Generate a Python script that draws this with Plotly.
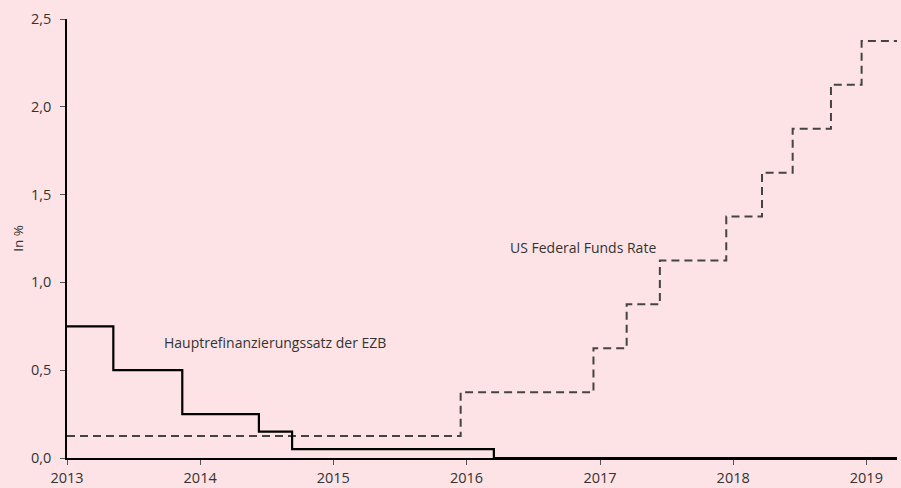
import plotly.graph_objects as go

# ECB main refinancing rate (step changes)
ecb_dates = ["2013-01-01", "2013-05-08", "2013-11-13", "2014-06-11", "2014-09-10", "2016-03-16", "2019-03-31"]
ecb_rates = [0.75, 0.50, 0.25, 0.15, 0.05, 0.00, 0.00]

# US Federal Funds Rate (midpoint of target range)
fed_dates = ["2013-01-01", "2015-12-16", "2016-12-14", "2017-03-15", "2017-06-14", "2017-12-13",
             "2018-03-21", "2018-06-13", "2018-09-26", "2018-12-19", "2019-03-31"]
fed_rates = [0.125, 0.375, 0.625, 0.875, 1.125, 1.375, 1.625, 1.875, 2.125, 2.375, 2.375]

y_ticks = [0.0, 0.5, 1.0, 1.5, 2.0, 2.5]
x_ticks = ["2013-01-01", "2014-01-01", "2015-01-01", "2016-01-01", "2017-01-01", "2018-01-01", "2019-01-01"]
x_labels = ["2013", "2014", "2015", "2016", "2017", "2018", "2019"]

bg = "#fde3e5"
font_family = "'Open Sans', 'DejaVu Sans', sans-serif"

fig = go.Figure()
fig.add_trace(go.Scatter(x=fed_dates, y=fed_rates, mode="lines", line_shape="hv",
                         line=dict(color="#444444", width=2, dash="8px,5px"), name="US Federal Funds Rate"))
fig.add_trace(go.Scatter(x=ecb_dates, y=ecb_rates, mode="lines", line_shape="hv",
                         line=dict(color="#000000", width=2.2), name="Hauptrefinanzierungssatz der EZB"))

fig.add_annotation(x="2014-07-24", y=0.655, text="Hauptrefinanzierungssatz der EZB", showarrow=False,
                   xanchor="center", yanchor="middle", font=dict(size=14, color="#333333", family=font_family))
fig.add_annotation(x="2016-11-14", y=1.20, text="US Federal Funds Rate", showarrow=False,
                   xanchor="center", yanchor="middle", font=dict(size=14, color="#333333", family=font_family))

fig.update_layout(
    width=901, height=488,
    paper_bgcolor=bg, plot_bgcolor=bg,
    margin=dict(l=67, r=4, t=19, b=30, autoexpand=False),
    showlegend=False,
    separators=",.",
    font=dict(family=font_family, size=14.5, color="#333333"),
    xaxis=dict(type="date", range=["2013-01-01", "2019-03-26"], tickvals=x_ticks, ticktext=x_labels,
               showgrid=False, zeroline=False, showline=True, linecolor="#000000", linewidth=1.5,
               ticks="outside", ticklen=5, tickcolor="#555555", ticklabelstandoff=1,
               tickfont=dict(size=14.5), automargin=False),
    yaxis=dict(range=[0, 2.5], tickvals=y_ticks, tickformat=".1f", showgrid=False, zeroline=False,
               showline=True, linecolor="#000000", linewidth=1.5, ticks="outside", ticklen=5,
               tickcolor="#555555", ticklabelstandoff=6, tickfont=dict(size=14.5), automargin=False,
               title=dict(text="In %", standoff=4, font=dict(size=13.5))),
)

fig.write_html("out.html", config={"displayModeBar": False})
with open("out.html", "r", encoding="utf-8") as f:
    html = f.read()
html = html.replace("<head>", "<head><style>html,body{margin:0;padding:0;}</style>", 1)
with open("out.html", "w", encoding="utf-8") as f:
    f.write(html)
